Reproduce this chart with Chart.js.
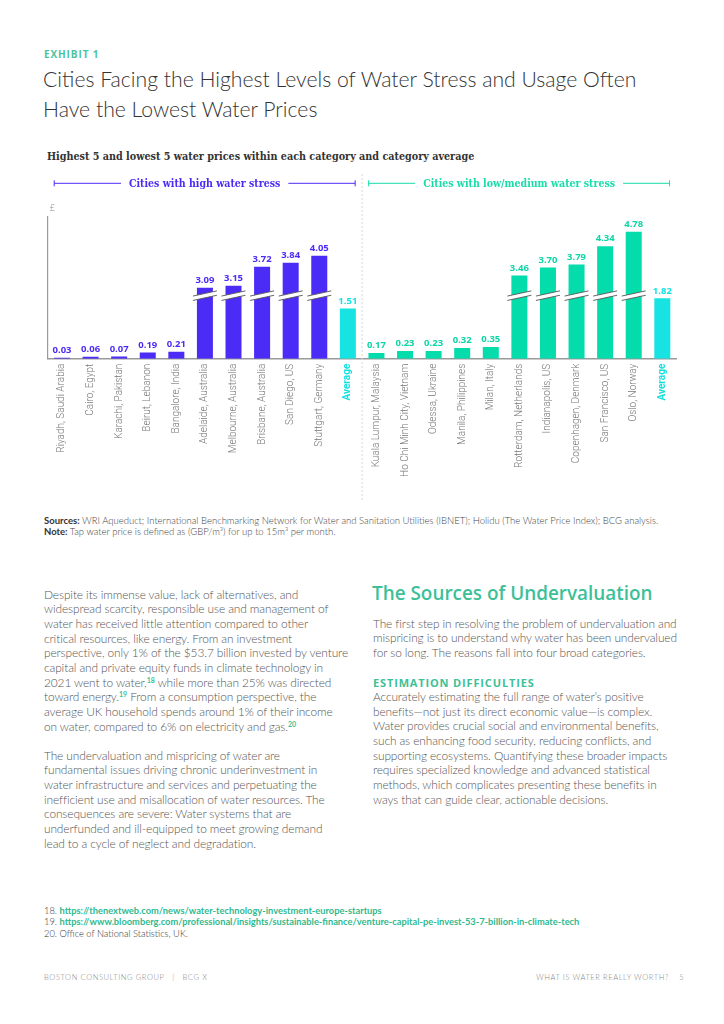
<!DOCTYPE html>
<html>
<head>
<meta charset="utf-8">
<script src="https://cdn.jsdelivr.net/npm/chart.js@4.4.1/dist/chart.umd.min.js"></script>
<style>
  html,body{margin:0;padding:0;background:#fff;}
  body{width:724px;height:1024px;position:relative;overflow:hidden;font-family:Lato,"Open Sans",sans-serif;}
  .abs{position:absolute;white-space:nowrap;}
  #exhibit{left:44px;top:47px;font:700 10px/14px "Open Sans";letter-spacing:0.9px;color:#4cc3a0;}
  #title{left:43px;top:64px;font:300 21.2px/30px Lato;color:#333;}
  #subtitle{left:47px;top:149px;font:700 10.7px/16px "DejaVu Serif Condensed","DejaVu Serif";color:#333;}
  #chartbox{position:absolute;left:30px;top:165px;width:670px;height:345px;}
  #sources{left:44px;top:516px;font:300 9.5px/10.7px Lato;color:#444;}
  #sources b{font-weight:700;color:#333;}
  .body{font:300 11.9px/14.67px Lato;letter-spacing:-0.1px;color:#555;}
  #left1{left:44px;top:587.5px;}
  #left2{left:44px;top:748.5px;}
  #right1{left:373px;top:616.5px;}
  #right2{left:373px;top:690px;}
  #heading{left:372px;top:579px;font:600 18.9px/28px "Open Sans";color:#3dbf98;}
  #estim{left:373px;top:675px;font:700 11px/16px "Open Sans";letter-spacing:0.85px;color:#3dbf98;}
  sup{font-size:7px;font-weight:700;color:#3dbf98;vertical-align:4px;line-height:0;letter-spacing:0;}
  #notes{left:44px;top:905px;font:300 9.3px/11.4px Lato;color:#333;}
  #notes .lnk{color:#2fb98f;font-weight:700;}
  #footL{left:44px;top:972px;font:300 7.5px/11px Lato;letter-spacing:0.6px;color:#888;}
  #footR{left:536px;top:972px;font:300 7.5px/11px Lato;letter-spacing:0.6px;color:#888;}
</style>
</head>
<body>
<div id="exhibit" class="abs">EXHIBIT 1</div>
<div id="title" class="abs">Cities Facing the Highest Levels of Water Stress and Usage Often<br>Have the Lowest Water Prices</div>
<div id="subtitle" class="abs">Highest 5 and lowest 5 water prices within each category and category average</div>
<div id="chartbox"><canvas id="c" width="670" height="345"></canvas></div>
<div id="sources" class="abs"><b>Sources:</b> WRI Aqueduct; International Benchmarking Network for Water and Sanitation Utilities (IBNET); Holidu (The Water Price Index); BCG analysis.<br><b>Note:</b> Tap water price is defined as (GBP/m³) for up to 15m³ per month.</div>

<div id="left1" class="abs body">Despite its immense value, lack of alternatives, and<br>widespread scarcity, responsible use and management of<br>water has received little attention compared to other<br>critical resources, like energy. From an investment<br>perspective, only 1% of the $53.7 billion invested by venture<br>capital and private equity funds in climate technology in<br>2021 went to water,<sup>18</sup> while more than 25% was directed<br>toward energy.<sup>19</sup> From a consumption perspective, the<br>average UK household spends around 1% of their income<br>on water, compared to 6% on electricity and gas.<sup>20</sup></div>
<div id="left2" class="abs body">The undervaluation and mispricing of water are<br>fundamental issues driving chronic underinvestment in<br>water infrastructure and services and perpetuating the<br>inefficient use and misallocation of water resources. The<br>consequences are severe: Water systems that are<br>underfunded and ill-equipped to meet growing demand<br>lead to a cycle of neglect and degradation.</div>

<div id="heading" class="abs">The Sources of Undervaluation</div>
<div id="right1" class="abs body">The first step in resolving the problem of undervaluation and<br>mispricing is to understand why water has been undervalued<br>for so long. The reasons fall into four broad categories.</div>
<div id="estim" class="abs">ESTIMATION DIFFICULTIES</div>
<div id="right2" class="abs body">Accurately estimating the full range of water’s positive<br>benefits—not just its direct economic value—is complex.<br>Water provides crucial social and environmental benefits,<br>such as enhancing food security, reducing conflicts, and<br>supporting ecosystems. Quantifying these broader impacts<br>requires specialized knowledge and advanced statistical<br>methods, which complicates presenting these benefits in<br>ways that can guide clear, actionable decisions.</div>

<div id="notes" class="abs">18. <span class="lnk">https://thenextweb.com/news/water-technology-investment-europe-startups</span><br>19. <span class="lnk">https://www.bloomberg.com/professional/insights/sustainable-finance/venture-capital-pe-invest-53-7-billion-in-climate-tech</span><br>20. Office of National Statistics, UK.</div>
<div id="footL" class="abs">BOSTON CONSULTING GROUP &nbsp;&nbsp;|&nbsp;&nbsp; BCG X</div>
<div id="footR" class="abs">WHAT IS WATER REALLY WORTH? &nbsp;&nbsp;&nbsp;5</div>

<script>
// ---- data ----
const cities = [
  "Riyadh, Saudi Arabia","Cairo, Egypt","Karachi, Pakistan","Beirut, Lebanon","Bangalore, India",
  "Adelaide, Australia","Melbourne, Australia","Brisbane, Australia","San Diego, US","Stuttgart, Germany","Average",
  "Kuala Lumpur, Malaysia","Ho Chi Minh City, Vietnam","Odessa, Ukraine","Manila, Philippines","Milan, Italy",
  "Rotterdam, Netherlands","Indianapolis, US","Copenhagen, Denmark","San Francisco, US","Oslo, Norway","Average"
];
const prices = [0.03,0.06,0.07,0.19,0.21,3.09,3.15,3.72,3.84,4.05,1.51,
                0.17,0.23,0.23,0.32,0.35,3.46,3.70,3.79,4.34,4.78,1.82];
const kinds = ["high","high","high","high","high","high","high","high","high","high","avg",
               "low","low","low","low","low","low","low","low","low","low","avg"];
const groupTitles = ["Cities with high water stress","Cities with low/medium water stress"];
const groupSizes = [11, 11];
const unitLabel = "£";

// axis break (values above threshold drawn shortened by gap)
const BREAK_THRESHOLD = 3;
const BREAK_GAP = 0.95;
const BREAK_AT = 1.9;

const COLORS = {high:"#4b2cf6", low:"#05dcab", avg:"#17e3e3"};
const LABEL_COLORS = {high:"#4b2cf6", low:"#0fd6a6", avg:"#17e0e0"};
const GROUP_COLORS = ["#4b2cf6", "#19dcaa"];
const CANVAS_TOP = 165; // page offset of canvas

const shown = prices.map(v => v > BREAK_THRESHOLD ? v - BREAK_GAP : v);

const overlay = {
  id: "overlay",
  afterDatasetsDraw(chart) {
    const ctx = chart.ctx;
    const y = chart.scales.y;
    const x = chart.scales.x;
    const meta = chart.getDatasetMeta(0);
    ctx.save();
    meta.data.forEach((bar, i) => {
      const k = kinds[i];
      if (prices[i] > BREAK_THRESHOLD) {
        const yc = y.getPixelForValue(BREAK_AT);
        const h = bar.width / 2 + 4;
        const d = 2.6, g = 2.2;
        ctx.beginPath();
        ctx.moveTo(bar.x - h, yc - g + d);
        ctx.lineTo(bar.x + h, yc - g - d);
        ctx.lineTo(bar.x + h, yc + g - d);
        ctx.lineTo(bar.x - h, yc + g + d);
        ctx.closePath();
        ctx.fillStyle = "#fff";
        ctx.fill();
        ctx.strokeStyle = "#555";
        ctx.lineWidth = 0.9;
        ctx.beginPath();
        ctx.moveTo(bar.x - h, yc - g + d); ctx.lineTo(bar.x + h, yc - g - d);
        ctx.moveTo(bar.x - h, yc + g + d); ctx.lineTo(bar.x + h, yc + g - d);
        ctx.stroke();
      }
      ctx.fillStyle = LABEL_COLORS[k];
      ctx.font = "700 9.5px 'Open Sans'";
      ctx.textAlign = "center";
      ctx.textBaseline = "middle";
      ctx.fillText(prices[i].toFixed(2), bar.x, bar.y - 7.5);
    });

    // divider between groups
    const divX = (x.getPixelForValue(groupSizes[0] - 1) + x.getPixelForValue(groupSizes[0])) / 2;
    ctx.strokeStyle = "#d6d6d6";
    ctx.lineWidth = 1;
    ctx.setLineDash([2, 2]);
    ctx.beginPath();
    ctx.moveTo(divX, 174 - CANVAS_TOP);
    ctx.lineTo(divX, 500 - CANVAS_TOP);
    ctx.stroke();
    ctx.setLineDash([]);

    // group brackets
    const area = chart.chartArea;
    const spans = [[area.left, divX], [divX, area.right]];
    const by = 183.3 - CANVAS_TOP;
    ctx.font = "700 10.5px 'DejaVu Serif Condensed', 'DejaVu Serif'";
    ctx.textBaseline = "middle";
    spans.forEach((s, gi) => {
      const l = s[0] + 6.5, r = s[1] - 7;
      const c = (l + r) / 2;
      const tw = ctx.measureText(groupTitles[gi]).width;
      ctx.strokeStyle = GROUP_COLORS[gi];
      ctx.fillStyle = GROUP_COLORS[gi];
      ctx.lineWidth = 1;
      ctx.beginPath();
      ctx.moveTo(l, by); ctx.lineTo(c - tw / 2 - 8, by);
      ctx.moveTo(c + tw / 2 + 8, by); ctx.lineTo(r, by);
      ctx.moveTo(l, by - 3); ctx.lineTo(l, by + 3);
      ctx.moveTo(r, by - 3); ctx.lineTo(r, by + 3);
      ctx.stroke();
      ctx.textAlign = "center";
      ctx.fillText(groupTitles[gi], c, by + 0.5);
    });

    // unit label
    ctx.fillStyle = "#888";
    ctx.font = "300 9px Lato";
    ctx.textAlign = "left";
    ctx.fillText(unitLabel, area.left + 2, area.top - 9);
    ctx.restore();
  }
};

new Chart(document.getElementById("c"), {
  type: "bar",
  data: {
    labels: cities,
    datasets: [{
      data: shown,
      backgroundColor: kinds.map(k => COLORS[k]),
      borderWidth: 0,
      categoryPercentage: 1,
      barPercentage: 0.56
    }]
  },
  options: {
    responsive: false,
    animation: false,
    layout: {padding: {top: 51.7, right: 23.4, left: 0, bottom: 0}},
    plugins: {legend: {display: false}, tooltip: {enabled: false}},
    scales: {
      x: {
        grid: {display: false, drawTicks: false},
        border: {display: true, color: "#9a9a9a", width: 1.5},
        ticks: {
          autoSkip: false, maxRotation: 90, minRotation: 90, padding: 5,
          color: ctx => kinds[ctx.index] === "avg" ? "#17e0e0" : "#777",
          font: ctx => kinds[ctx.index] === "avg"
            ? {family: "Roboto", size: 10, weight: "700"}
            : {family: "Roboto", size: 10, weight: "300"}
        },
        afterFit(s) { s.height = 151.3; }
      },
      y: {
        min: 0, max: 4.28,
        grid: {display: false, drawTicks: false},
        border: {display: true, color: "#9a9a9a", width: 1.2},
        ticks: {display: false},
        afterFit(s) { s.width = 17.7; }
      }
    }
  },
  plugins: [overlay]
});
</script>
</body>
</html>
